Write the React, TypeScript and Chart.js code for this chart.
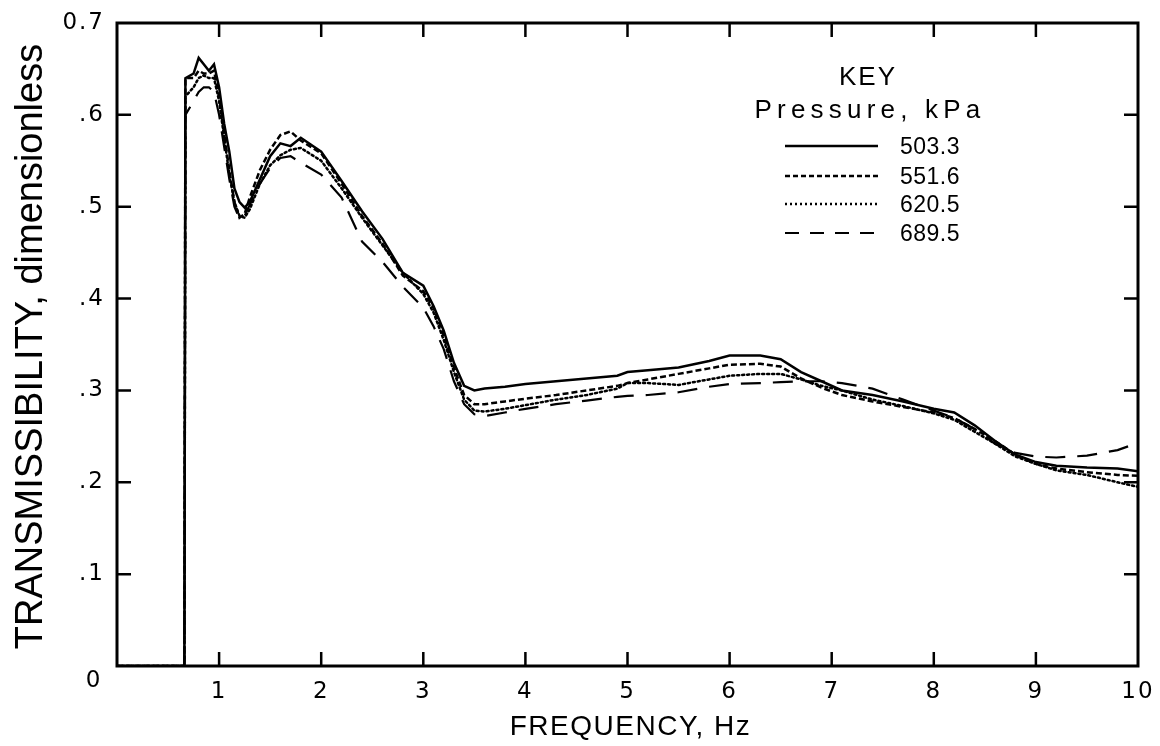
import React, { useEffect, useRef } from "react";
import { Chart, registerables } from "chart.js";

Chart.register(...registerables);

const FONT = "'Liberation Sans', Arial, Helvetica, sans-serif";
const TICK_FONT = "'DejaVu Sans', 'Liberation Sans', sans-serif";

const freq = [
  0, 0.66, 0.67, 0.75, 0.8, 0.85, 0.9, 0.95, 1.0, 1.05, 1.1, 1.15, 1.2, 1.25, 1.3, 1.4, 1.5, 1.6, 1.7, 1.8,
  2.0, 2.2, 2.4, 2.6, 2.8, 3.0, 3.1, 3.2, 3.3, 3.4, 3.5, 3.6, 3.8, 4.0, 4.3, 4.6, 4.9, 5.0, 5.2, 5.5,
  5.8, 6.0, 6.3, 6.5, 6.7, 6.9, 7.1, 7.4, 7.7, 8.0, 8.2, 8.4, 8.6, 8.8, 9.0, 9.2, 9.5, 9.8, 10,
];

const p503 = [
  0, 0, 0.64, 0.645, 0.662, 0.655, 0.648, 0.655, 0.63, 0.59, 0.56, 0.52, 0.505, 0.499, 0.505, 0.53, 0.555, 0.569, 0.566, 0.575,
  0.56, 0.528, 0.495, 0.465, 0.428, 0.414, 0.392, 0.365, 0.33, 0.305, 0.3, 0.302, 0.304, 0.307, 0.31, 0.313, 0.316, 0.32, 0.322, 0.325,
  0.332, 0.338, 0.338, 0.334, 0.32, 0.31, 0.3, 0.295, 0.288, 0.28, 0.276, 0.262, 0.245, 0.23, 0.222, 0.218, 0.216, 0.215, 0.212,
];

const p551 = [
  0, 0, 0.64, 0.64, 0.648, 0.645, 0.645, 0.648, 0.62, 0.58, 0.54, 0.505, 0.488, 0.492, 0.51, 0.54, 0.562, 0.578, 0.582, 0.572,
  0.558, 0.525, 0.49, 0.46, 0.425, 0.408, 0.39, 0.36, 0.325, 0.295, 0.285, 0.285, 0.288, 0.291, 0.295, 0.3, 0.305, 0.308, 0.312, 0.318,
  0.324, 0.328, 0.329, 0.326, 0.313, 0.303, 0.295, 0.288, 0.282, 0.276, 0.27, 0.258, 0.245, 0.23, 0.22, 0.215, 0.211, 0.208, 0.207,
];

const p620 = [
  0, 0, 0.62, 0.63, 0.64, 0.643, 0.64, 0.64, 0.615, 0.575, 0.535, 0.505, 0.49, 0.488, 0.497, 0.525, 0.545, 0.556, 0.562, 0.564,
  0.55, 0.52, 0.488, 0.458, 0.428, 0.405, 0.385, 0.355, 0.32, 0.29, 0.278, 0.277, 0.28, 0.284, 0.29, 0.295, 0.302, 0.308, 0.308, 0.306,
  0.312, 0.316, 0.318, 0.318, 0.312, 0.305, 0.3, 0.29, 0.283, 0.275, 0.268, 0.255, 0.242, 0.228, 0.22, 0.213, 0.208, 0.2, 0.195,
];

const p689 = [
  0, 0, 0.6, 0.615, 0.625, 0.63, 0.63, 0.625, 0.6, 0.565, 0.53, 0.5, 0.487, 0.49, 0.502, 0.525, 0.542, 0.553, 0.555, 0.548,
  0.535, 0.51, 0.462, 0.44, 0.413, 0.39, 0.37, 0.345, 0.31, 0.285, 0.274, 0.272, 0.276, 0.28, 0.285, 0.289, 0.293, 0.294, 0.295, 0.298,
  0.304, 0.307, 0.308, 0.309, 0.31, 0.31, 0.308, 0.302, 0.29, 0.278, 0.27, 0.258, 0.242, 0.232, 0.228, 0.227, 0.229, 0.235, 0.243,
];

const seriesLabels = ["503.3", "551.6", "620.5", "689.5"];
const seriesValues = [p503, p551, p620, p689];
const seriesDash = [[], [6, 3], [2, 3], [20, 12]];
const legendDash = [[], [5, 3], [2, 3], [14, 11]];
const seriesWidth = [2.5, 2.5, 2.5, 2.2];

const xTickValues = [1, 2, 3, 4, 5, 6, 7, 8, 9, 10];
const yTickValues = [0, 0.1, 0.2, 0.3, 0.4, 0.5, 0.6, 0.7];
const yTickLabels = ["0", ".1", ".2", ".3", ".4", ".5", ".6", "0.7"];

const xTitle = "FREQUENCY, Hz";
const yTitle = "TRANSMISSIBILITY, dimensionless";
const keyTitle = "KEY";
const keySubtitle = "Pressure, kPa";

const decorPlugin = {
  id: "decor",
  beforeDraw(chart: any) {
    (chart.ctx as any).letterSpacing = "2px";
  },
  beforeDatasetsDraw(chart: any) {
    (chart.ctx as any).letterSpacing = "0px";
  },
  afterDraw(chart: any) {
    const { ctx, chartArea: a, scales } = chart;
    const xs = scales.x;
    const ys = scales.y;
    ctx.save();
    ctx.strokeStyle = "#000";
    ctx.fillStyle = "#000";
    // frame
    ctx.lineWidth = 3;
    ctx.setLineDash([]);
    ctx.strokeRect(a.left, a.top, a.right - a.left, a.bottom - a.top);
    // inward ticks
    ctx.lineWidth = 2.5;
    const tl = 14;
    xTickValues.forEach((v) => {
      if (v >= 10) return;
      const px = xs.getPixelForValue(v);
      ctx.beginPath();
      ctx.moveTo(px, a.bottom);
      ctx.lineTo(px, a.bottom - tl);
      ctx.moveTo(px, a.top);
      ctx.lineTo(px, a.top + tl);
      ctx.stroke();
    });
    yTickValues.forEach((v) => {
      if (v <= 0 || v >= 0.7) return;
      const py = ys.getPixelForValue(v);
      ctx.beginPath();
      ctx.moveTo(a.left, py);
      ctx.lineTo(a.left + tl, py);
      ctx.moveTo(a.right, py);
      ctx.lineTo(a.right - tl, py);
      ctx.stroke();
    });
    // y "0" label (offset below axis like the original)
    ctx.font = `23px ${TICK_FONT}`;
    (ctx as any).letterSpacing = "0px";
    ctx.textAlign = "center";
    ctx.textBaseline = "alphabetic";
    ctx.fillText(yTickLabels[0], 93, ys.getPixelForValue(0) + 21);
    // x title
    ctx.font = `28px ${FONT}`;
    (ctx as any).letterSpacing = "1.5px";
    ctx.textAlign = "center";
    ctx.fillText(xTitle, (a.left + a.right) / 2 + 3, 735);
    // y title
    (ctx as any).letterSpacing = "0px";
    ctx.save();
    ctx.translate(42, (a.top + a.bottom) / 2 + 2);
    ctx.rotate(-Math.PI / 2);
    ctx.font = `38px ${FONT}`;
    ctx.textAlign = "center";
    ctx.textBaseline = "alphabetic";
    ctx.fillText(yTitle, 0, 0);
    ctx.restore();
    // key
    ctx.font = `26px ${FONT}`;
    (ctx as any).letterSpacing = "2px";
    ctx.textAlign = "center";
    ctx.fillText(keyTitle, 868, 85);
    (ctx as any).letterSpacing = "5.2px";
    ctx.fillText(keySubtitle, 870, 118);
    (ctx as any).letterSpacing = "0.5px";
    const rowY = [146, 176, 204, 233];
    ctx.textAlign = "left";
    ctx.font = `23px ${FONT}`;
    seriesLabels.forEach((lab, i) => {
      const y = rowY[i];
      ctx.lineWidth = seriesWidth[i];
      ctx.setLineDash(legendDash[i]);
      ctx.beginPath();
      ctx.moveTo(785, y);
      ctx.lineTo(878, y);
      ctx.stroke();
      ctx.setLineDash([]);
      ctx.fillText(lab, 900, y + 8);
    });
    ctx.restore();
  },
};

export default function App() {
  const ref = useRef<HTMLCanvasElement | null>(null);
  useEffect(() => {
    if (!ref.current) return;
    const datasets = seriesLabels.map((lab, i) => ({
      label: lab,
      data: freq.map((f, j) => ({ x: f, y: seriesValues[i][j] })),
      borderColor: "#000",
      backgroundColor: "#000",
      borderWidth: seriesWidth[i],
      borderDash: seriesDash[i],
      borderCapStyle: i === 2 ? "round" : "butt",
      pointRadius: 0,
      tension: 0,
      fill: false,
    }));
    const chart = new Chart(ref.current, {
      type: "line",
      data: { datasets } as any,
      options: {
        animation: false,
        responsive: false,
        maintainAspectRatio: false,
        layout: { autoPadding: false, padding: { left: 0, top: 23, right: 22, bottom: 0 } },
        plugins: { legend: { display: false }, tooltip: { enabled: false } },
        scales: {
          x: {
            type: "linear",
            min: 0,
            max: 10,
            grid: { display: false, drawTicks: false },
            border: { display: false },
            afterFit: (s: any) => {
              s.height = 80;
              s.paddingLeft = 0;
              s.paddingRight = 0;
            },
            afterBuildTicks: (s: any) => {
              s.ticks = xTickValues.map((v) => ({ value: v }));
            },
            ticks: {
              autoSkip: false,
              maxRotation: 0,
              padding: 12,
              color: "#000",
              font: { size: 23, family: TICK_FONT },
              callback: (v: any) => String(v),
            },
          },
          y: {
            type: "linear",
            min: 0,
            max: 0.7,
            grid: { display: false, drawTicks: false },
            border: { display: false },
            afterFit: (s: any) => {
              s.width = 117;
              s.paddingTop = 0;
              s.paddingBottom = 0;
            },
            afterBuildTicks: (s: any) => {
              s.ticks = yTickValues.map((v) => ({ value: v }));
            },
            ticks: {
              autoSkip: false,
              padding: 12,
              color: "#000",
              font: { size: 23, family: TICK_FONT },
              callback: (v: any) => {
                const idx = yTickValues.findIndex((t) => Math.abs(t - Number(v)) < 1e-6);
                if (idx <= 0) return "";
                return yTickLabels[idx];
              },
            },
          },
        },
      } as any,
      plugins: [decorPlugin],
    });
    return () => chart.destroy();
  }, []);
  return (
    <div style={{ position: "fixed", left: 0, top: 0, width: 1160, height: 746, background: "#fff" }}>
      <canvas ref={ref} width={1160} height={746} style={{ width: 1160, height: 746, display: "block" }} />
    </div>
  );
}
